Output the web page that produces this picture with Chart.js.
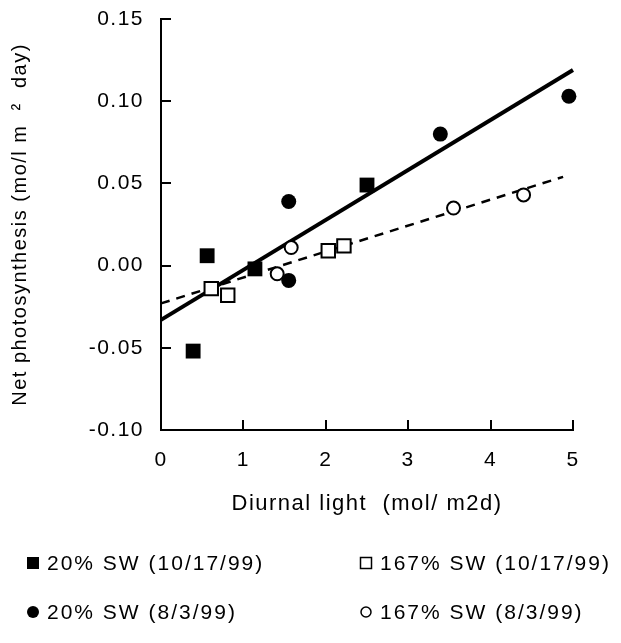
<!DOCTYPE html>
<html>
<head>
<meta charset="utf-8">
<script src="https://cdn.jsdelivr.net/npm/chart.js@4.4.0/dist/chart.umd.min.js"></script>
<style>
  html, body { margin: 0; padding: 0; background: #fff; }
  #wrap { width: 621px; height: 643px; }
</style>
</head>
<body>
<div id="wrap"><canvas id="chart" width="621" height="643"></canvas></div>
<script>
// data
var sq20X = [0.39, 0.56, 1.14, 2.50];
var sq20Y = [-0.052, 0.006, -0.002, 0.049];
var ci20X = [1.55, 1.55, 3.39, 4.95];
var ci20Y = [0.039, -0.009, 0.080, 0.103];
var sq167X = [0.61, 0.81, 2.03, 2.22];
var sq167Y = [-0.014, -0.018, 0.009, 0.012];
var ci167X = [1.41, 1.58, 3.55, 4.40];
var ci167Y = [-0.005, 0.011, 0.035, 0.043];

// fitted lines (end points)
var fit20X = [0, 5.0];
var fit20Y = [-0.033, 0.119];
var fit167X = [0, 4.88];
var fit167Y = [-0.023, 0.054];

var xTicks = [0, 1, 2, 3, 4, 5];
var yTicks = [-0.10, -0.05, 0.00, 0.05, 0.10, 0.15];

var legendNames = ['20% SW (10/17/99)', '167% SW (10/17/99)', '20% SW (8/3/99)', '167% SW (8/3/99)'];

function pts(xs, ys) {
  var out = [];
  for (var i = 0; i < xs.length; i++) out.push({x: xs[i], y: ys[i]});
  return out;
}

var FONT = "'Liberation Sans', Arial, sans-serif";

// the original lettering is a bit wider than Arial
var wideText = {
  id: 'wideText',
  beforeInit: function (chart) { chart.ctx.letterSpacing = '1.5px'; },
  beforeDraw: function (chart) { chart.ctx.letterSpacing = '1.5px'; }
};

// ticks drawn inside the plot, like the original
var innerTicks = {
  id: 'innerTicks',
  afterDraw: function (chart) {
    var ctx = chart.ctx;
    var xs = chart.scales.x, ys = chart.scales.y;
    var a = chart.chartArea;
    ctx.save();
    ctx.strokeStyle = '#000';
    ctx.lineWidth = 2;
    yTicks.forEach(function (v) {
      var py = Math.round(ys.getPixelForValue(v));
      if (Math.abs(py - a.bottom) < 2) return;
      ctx.beginPath();
      ctx.moveTo(a.left, py);
      ctx.lineTo(a.left + 10, py);
      ctx.stroke();
    });
    xTicks.forEach(function (v) {
      var px = Math.round(xs.getPixelForValue(v));
      if (Math.abs(px - a.left) < 2) return;
      ctx.beginPath();
      ctx.moveTo(px, a.bottom);
      ctx.lineTo(px, a.bottom - 10);
      ctx.stroke();
    });
    ctx.restore();
  }
};

// legend in two columns under the chart
var bottomLegend = {
  id: 'bottomLegend',
  afterDraw: function (chart) {
    var ctx = chart.ctx;
    var cols = [33, 366];
    var rows = [563, 612];
    ctx.save();
    ctx.font = '21px ' + FONT;
    ctx.letterSpacing = '2px';
    ctx.textBaseline = 'middle';
    ctx.fillStyle = '#000';
    ctx.strokeStyle = '#000';
    ctx.lineWidth = 1.5;
    for (var i = 0; i < 4; i++) {
      var cx = cols[i % 2], cy = rows[Math.floor(i / 2)];
      ctx.beginPath();
      if (i === 0) { ctx.fillRect(cx - 6, cy - 6, 12, 12); }
      else if (i === 1) { ctx.strokeRect(cx - 5.5, cy - 5.5, 11, 11); }
      else if (i === 2) { ctx.arc(cx, cy, 6, 0, Math.PI * 2); ctx.fill(); }
      else { ctx.arc(cx, cy, 5, 0, Math.PI * 2); ctx.stroke(); }
      ctx.fillText(legendNames[i], cx + 14, cy + 1);
    }
    ctx.restore();
  }
};

new Chart(document.getElementById('chart'), {
  type: 'scatter',
  data: {
    datasets: [
      {
        label: legendNames[0], data: pts(sq20X, sq20Y), clip: false,
        pointStyle: 'rect', pointRadius: 10.5, backgroundColor: '#000', borderColor: '#000', borderWidth: 0
      },
      {
        label: legendNames[1], data: pts(sq167X, sq167Y), clip: false,
        pointStyle: 'rect', pointRadius: 9.5, backgroundColor: '#fff', borderColor: '#000', borderWidth: 2
      },
      {
        label: legendNames[2], data: pts(ci20X, ci20Y), clip: false,
        pointStyle: 'circle', pointRadius: 7.5, backgroundColor: '#000', borderColor: '#000', borderWidth: 0
      },
      {
        label: legendNames[3], data: pts(ci167X, ci167Y), clip: false,
        pointStyle: 'circle', pointRadius: 6.5, backgroundColor: '#fff', borderColor: '#000', borderWidth: 2
      },
      {
        type: 'line', label: 'fit 20%', data: pts(fit20X, fit20Y), clip: false,
        borderColor: '#000', borderWidth: 4, pointRadius: 0, showLine: true, fill: false
      },
      {
        type: 'line', label: 'fit 167%', data: pts(fit167X, fit167Y), clip: false,
        borderColor: '#000', borderWidth: 2.5, borderDash: [9, 7], pointRadius: 0, showLine: true, fill: false
      }
    ]
  },
  options: {
    responsive: false,
    animation: false,
    layout: { padding: { left: 0, right: 48, top: 19, bottom: 126 } },
    plugins: {
      legend: { display: false },
      tooltip: { enabled: false }
    },
    scales: {
      x: {
        type: 'linear',
        min: 0, max: 5,
        grid: { display: false, drawTicks: false },
        border: { display: true, color: '#000', width: 2 },
        afterBuildTicks: function (s) { s.ticks = xTicks.map(function (v) { return {value: v}; }); },
        afterFit: function (s) { s.height = 87; s.paddingLeft = 0; s.paddingRight = 0; },
        ticks: {
          color: '#000', padding: 18,
          font: { family: FONT, size: 21 },
          callback: function (v) { return String(v); }
        },
        title: {
          display: true, text: 'Diurnal light  (mol/ m2d)', color: '#000',
          font: { family: FONT, size: 22 }, padding: { top: 0, bottom: 0 }
        }
      },
      y: {
        type: 'linear',
        min: -0.10, max: 0.15,
        grid: { display: false, drawTicks: false },
        border: { display: true, color: '#000', width: 2 },
        afterBuildTicks: function (s) { s.ticks = yTicks.map(function (v) { return {value: v}; }); },
        afterFit: function (s) { s.width = 161; s.paddingTop = 0; s.paddingBottom = 0; },
        ticks: {
          color: '#000', padding: 17,
          font: { family: FONT, size: 21 },
          callback: function (v) { return Number(v).toFixed(2); }
        },
        title: {
          display: true, text: 'Net photosynthesis (mo/l m  ²  day)', color: '#000',
          font: { family: FONT, size: 20 }, padding: { top: 8, bottom: 0 }
        }
      }
    }
  },
  plugins: [wideText, innerTicks, bottomLegend]
});
</script>
</body>
</html>
